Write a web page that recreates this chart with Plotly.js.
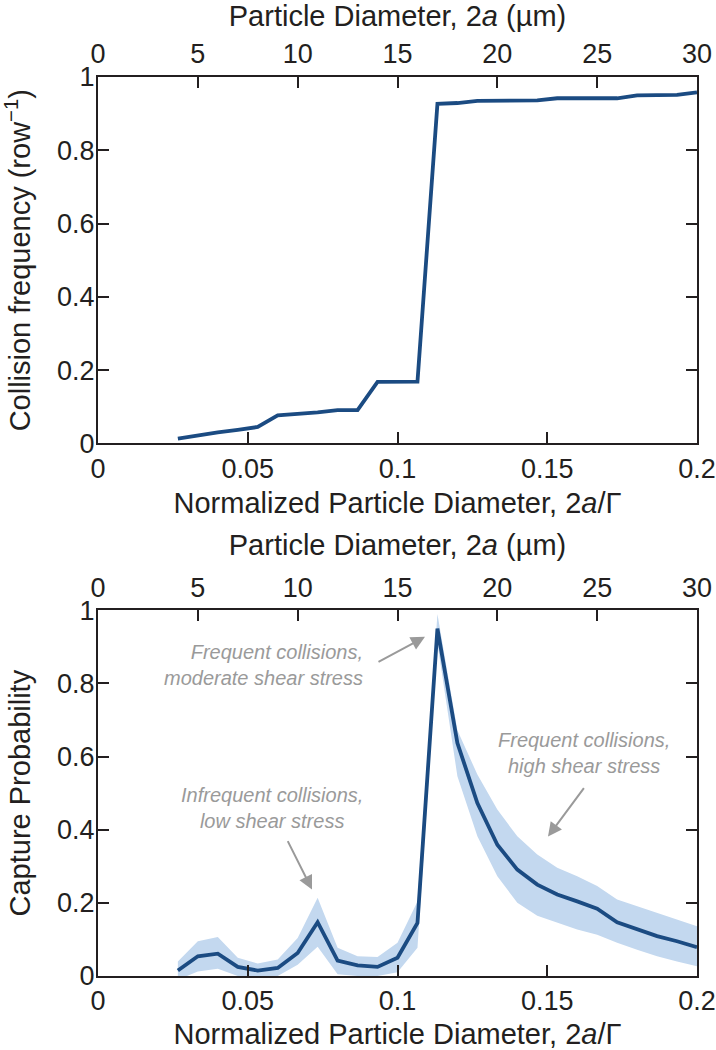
<!DOCTYPE html>
<html>
<head>
<meta charset="utf-8">
<script src="https://cdn.plot.ly/plotly-3.0.1.min.js"></script>
<style>html,body{margin:0;padding:0;background:#fff;}#chart{width:716px;height:1050px;}</style>
</head>
<body>
<div id="chart"></div>
<script>
// Particle diameter (µm); the bottom axis (normalized diameter 2a/Γ) spans 0–0.2 for 0–30 µm
const diameterUm = [4,5,6,7,8,9,10,11,12,13,14,15,16,17,18,19,20,21,22,23,24,25,26,27,28,29,30];
const collisionFreq = [0.013,0.022,0.030,0.037,0.045,0.077,0.080,0.085,0.091,0.091,0.168,0.168,0.169,0.927,0.929,0.935,0.935,0.936,0.936,0.942,0.942,0.942,0.942,0.950,0.950,0.951,0.958];
const captureProb = [0.015,0.054,0.061,0.025,0.015,0.022,0.063,0.147,0.042,0.029,0.025,0.050,0.145,0.950,0.637,0.473,0.359,0.291,0.250,0.223,0.204,0.184,0.147,0.129,0.109,0.095,0.079];
const captureUpper = [0.040,0.095,0.107,0.050,0.034,0.045,0.104,0.214,0.077,0.054,0.052,0.091,0.204,0.990,0.672,0.551,0.455,0.382,0.332,0.296,0.273,0.246,0.209,0.191,0.173,0.154,0.136];
const captureLower = [-0.010,0.012,0.020,0.000,-0.005,0.000,0.031,0.080,0.005,0.000,0.000,0.010,0.077,0.910,0.546,0.382,0.273,0.200,0.165,0.145,0.127,0.113,0.091,0.072,0.054,0.040,0.027];

const normTickVals = [0,0.05,0.1,0.15,0.2];
const normTickText = ['0','0.05','0.1','0.15','0.2'];
const umTickVals = [0,5,10,15,20,25,30];
const yTickVals = [0,0.2,0.4,0.6,0.8,1];
const yTickText = ['0','0.2','0.4','0.6','0.8','1'];

const lineColor = '#1b4b82';
const bandColor = '#c3d8ef';
const annColor = '#9a9a9a';
const ink = '#231f20';
const fontFam = 'Arial, "Liberation Sans", Helvetica, sans-serif';

const traces = [
  // empty traces so that the normalized-diameter axes are drawn
  {x: [], y: [], xaxis: 'x', yaxis: 'y', mode: 'lines', hoverinfo: 'skip', showlegend: false},
  {x: [], y: [], xaxis: 'x3', yaxis: 'y2', mode: 'lines', hoverinfo: 'skip', showlegend: false},
  {x: diameterUm, y: collisionFreq, xaxis: 'x2', yaxis: 'y', mode: 'lines',
   line: {color: lineColor, width: 3.8}, hoverinfo: 'skip', showlegend: false},
  {x: diameterUm, y: captureLower, xaxis: 'x4', yaxis: 'y2', mode: 'lines',
   line: {width: 0, color: bandColor}, hoverinfo: 'skip', showlegend: false},
  {x: diameterUm, y: captureUpper, xaxis: 'x4', yaxis: 'y2', mode: 'lines', fill: 'tonexty',
   fillcolor: bandColor, line: {width: 0, color: bandColor}, hoverinfo: 'skip', showlegend: false},
  {x: diameterUm, y: captureProb, xaxis: 'x4', yaxis: 'y2', mode: 'lines',
   line: {color: lineColor, width: 3.8}, hoverinfo: 'skip', showlegend: false}
];

const FS = 27, TFS = 29;
const axBase = {
  showline: true, linecolor: ink, linewidth: 2, ticks: 'inside', ticklen: 11,
  tickwidth: 2, tickcolor: ink, showgrid: false, zeroline: false, fixedrange: true,
  tickfont: {family: fontFam, size: FS, color: ink}
};
const titleFont = {family: fontFam, size: TFS, color: ink};

const W = 716, H = 1050, L = 98, R = 19, T = 76.7, B = 73.5;
const plotH = H - T - B;
const px = v => (v - L) / (W - L - R);
const py = v => (H - B - v) / plotH;

const layout = {
  width: W, height: H,
  margin: {l: L, r: R, t: T, b: B},
  paper_bgcolor: '#fff', plot_bgcolor: '#fff',
  font: {family: fontFam, size: FS, color: ink},
  showlegend: false,
  xaxis: Object.assign({}, axBase, {anchor: 'y', range: [0, 0.2], tickvals: normTickVals, ticktext: normTickText,
    title: {text: 'Normalized Particle Diameter, 2<i>a</i>/Γ', font: titleFont, standoff: 10}}),
  xaxis2: Object.assign({}, axBase, {anchor: 'y', overlaying: 'x', side: 'top', range: [0, 30], tickvals: umTickVals,
    ticklabelstandoff: 1,
    title: {text: 'Particle Diameter, 2<i>a</i> (µm)', font: titleFont, standoff: 14}}),
  yaxis: Object.assign({}, axBase, {anchor: 'x', domain: [(H - B - 443.5) / plotH, 1], range: [0, 1],
    tickvals: yTickVals, ticktext: yTickText, mirror: 'ticks', ticklabelstandoff: -4,
    title: {text: 'Collision frequency (row<sup>−1</sup>)', font: titleFont, standoff: 18}}),
  xaxis3: Object.assign({}, axBase, {anchor: 'y2', range: [0, 0.2], tickvals: normTickVals, ticktext: normTickText,
    title: {text: 'Normalized Particle Diameter, 2<i>a</i>/Γ', font: titleFont, standoff: 8}}),
  xaxis4: Object.assign({}, axBase, {anchor: 'y2', overlaying: 'x3', side: 'top', range: [0, 30], tickvals: umTickVals,
    ticklabelstandoff: 1,
    title: {text: 'Particle Diameter, 2<i>a</i> (µm)', font: titleFont, standoff: 8}}),
  yaxis2: Object.assign({}, axBase, {anchor: 'x3', domain: [0, (H - B - 610.5) / plotH], range: [0, 1],
    tickvals: yTickVals, ticktext: yTickText, mirror: 'ticks', ticklabelstandoff: -4,
    title: {text: 'Capture Probability', font: titleFont, standoff: 18}}),
  annotations: [
    {xref: 'paper', yref: 'paper', x: px(365), y: py(665), xanchor: 'right', yanchor: 'middle', align: 'right',
     text: '<i>Frequent collisions,</i><br><i>moderate shear stress</i>', showarrow: false,
     font: {family: fontFam, size: 20, color: annColor}},
    {xref: 'paper', yref: 'paper', x: px(272), y: py(808), xanchor: 'center', yanchor: 'middle', align: 'center',
     text: '<i>Infrequent collisions,</i><br><i>low shear stress</i>', showarrow: false,
     font: {family: fontFam, size: 20, color: annColor}},
    {xref: 'paper', yref: 'paper', x: px(584), y: py(753), xanchor: 'center', yanchor: 'middle', align: 'center',
     text: '<i>Frequent collisions,</i><br><i>high shear stress</i>', showarrow: false,
     font: {family: fontFam, size: 20, color: annColor}},
    {xref: 'paper', yref: 'paper', x: px(425), y: py(637), ax: 377 - 425, ay: 663 - 637, text: '', showarrow: true,
     arrowhead: 2, arrowsize: 1.4, arrowwidth: 2, arrowcolor: annColor},
    {xref: 'paper', yref: 'paper', x: px(312), y: py(890), ax: 287 - 312, ay: 840 - 890, text: '', showarrow: true,
     arrowhead: 2, arrowsize: 1.4, arrowwidth: 2, arrowcolor: annColor},
    {xref: 'paper', yref: 'paper', x: px(548), y: py(837), ax: 585 - 548, ay: 787 - 837, text: '', showarrow: true,
     arrowhead: 2, arrowsize: 1.4, arrowwidth: 2, arrowcolor: annColor}
  ]
};

Plotly.newPlot('chart', traces, layout, {displayModeBar: false, staticPlot: true});
</script>
</body>
</html>
